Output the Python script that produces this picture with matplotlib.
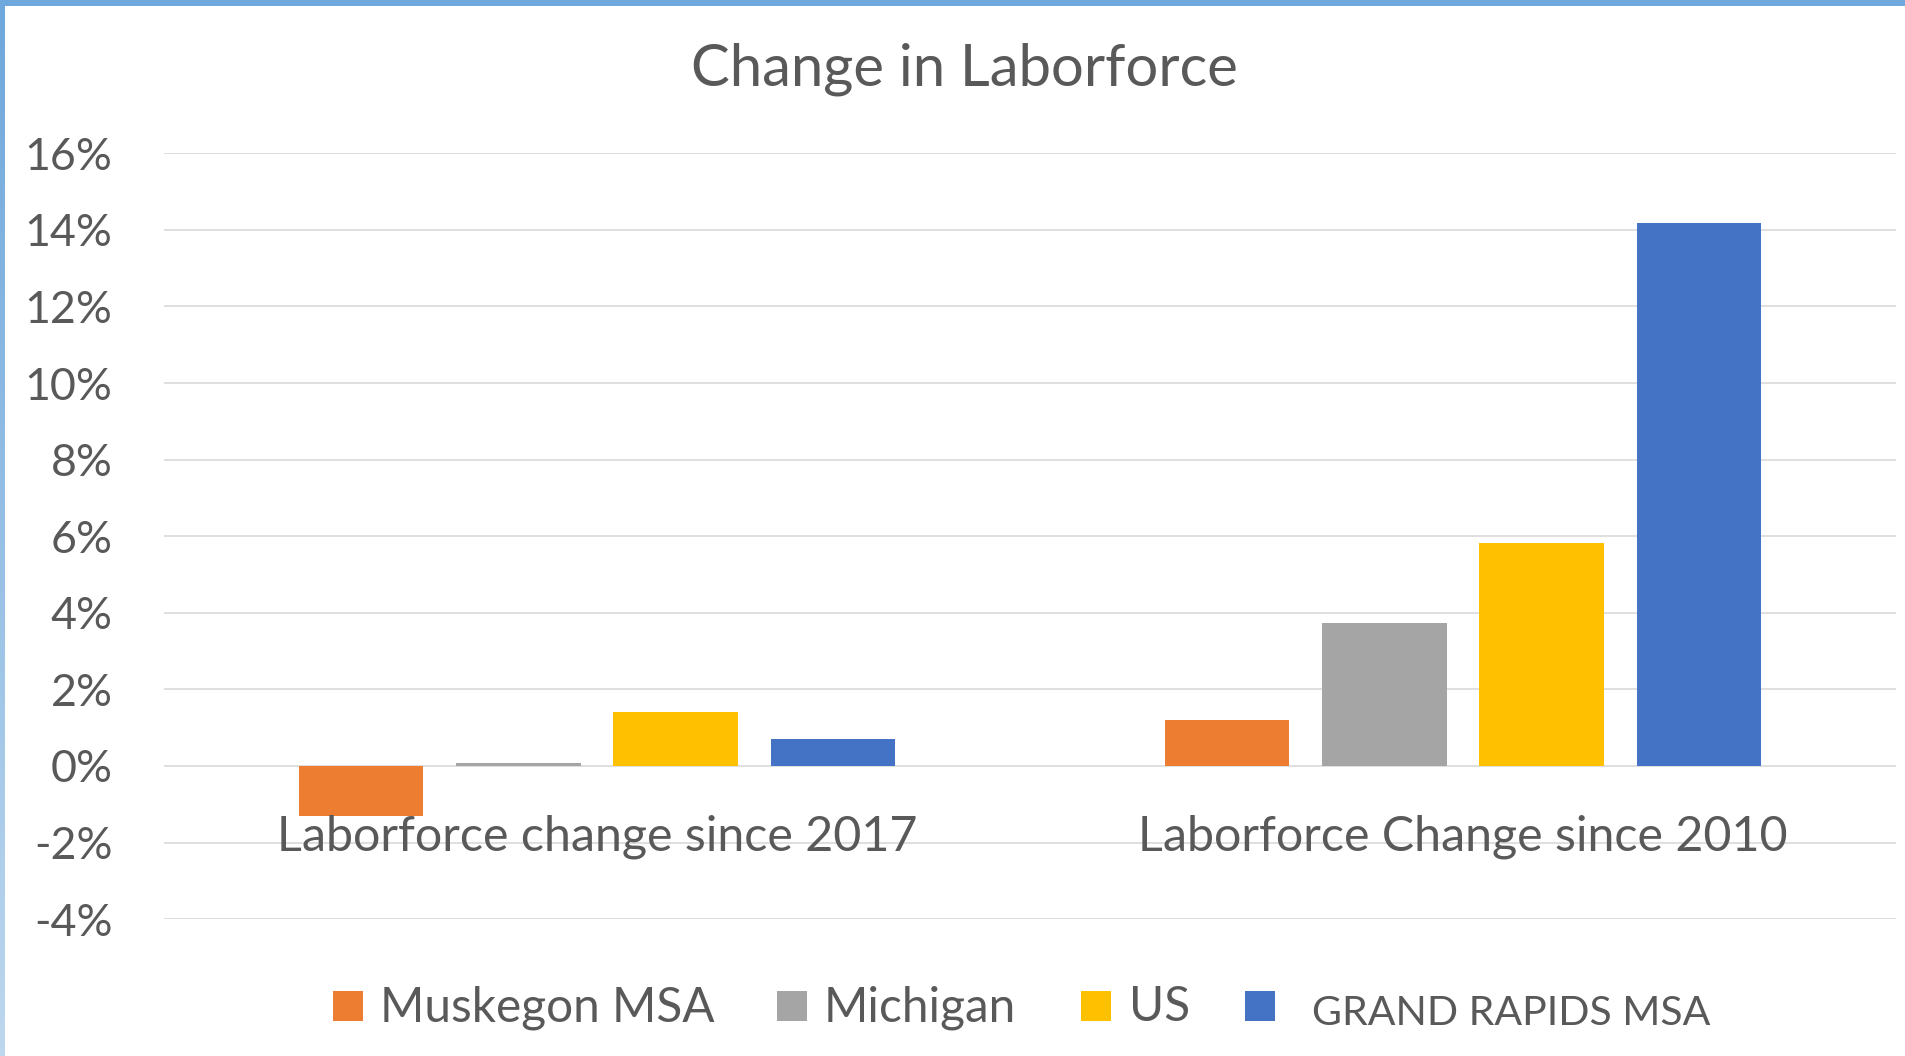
import matplotlib
matplotlib.use("Agg")
import matplotlib.pyplot as plt
from matplotlib.patches import Rectangle
from matplotlib.ticker import PercentFormatter
from matplotlib.colors import LinearSegmentedColormap
import numpy as np

plt.rcParams['font.family'] = ['Lato', 'DejaVu Sans']
plt.rcParams['axes.unicode_minus'] = False

# data (fractions)
categories = ["Laborforce change since 2017", "Laborforce Change since 2010"]
series = ["Muskegon MSA", "Michigan", "US", "GRAND RAPIDS MSA"]
muskegon = [-0.0131, 0.0119]
michigan = [0.0007, 0.0373]
us = [0.0141, 0.0582]
grand_rapids = [0.0070, 0.1418]
colors = ["#ED7D31", "#A5A5A5", "#FFC000", "#4472C4"]
yticks = [-0.04, -0.02, 0, 0.02, 0.04, 0.06, 0.08, 0.10, 0.12, 0.14, 0.16]

W, H = 1906, 1056
TXT = "#595959"

fig = plt.figure(figsize=(W / 100, H / 100), dpi=100)
r = fig.canvas.get_renderer()


def width_of(s, size):
    t = fig.text(0, 0, s, fontsize=size)
    w = t.get_window_extent(r).width
    t.remove()
    return w


def size_for(s, px):
    return 30 * px / width_of(s, 30)


ax = fig.add_axes([164 / W, (H - 919.2) / H, (1896 - 164) / W, (919.2 - 153.2) / H])
ax.set_xlim(-0.5, 1.5)
ax.set_ylim(-0.04, 0.16)

x = np.arange(len(categories))
step, bw = 0.1813, 0.1432
for i, vals in enumerate([muskegon, michigan, us, grand_rapids]):
    ax.bar(x + (i - 1.5) * step, vals, width=bw, color=colors[i], zorder=3,
           label=series[i])

ax.set_yticks(yticks)
ax.yaxis.set_major_formatter(PercentFormatter(1.0, decimals=0))
ax.grid(axis='y', color="#D9D9D9", linewidth=1.2, zorder=0)
ax.set_xticks([])
for s in ax.spines.values():
    s.set_visible(False)
tick_size = size_for("16%", 88)
ax.tick_params(axis='y', length=0, pad=37, labelsize=tick_size, labelcolor=TXT)

# category labels just under zero
lab_size = size_for(categories[0], 641)
for xi, c in zip(x, categories):
    ax.text(xi, -0.0221, c, ha='center', va='baseline',
            fontsize=lab_size, color=TXT)

fig.text(964 / W, 1 - 85 / H, "Change in Laborforce", ha='center',
         va='baseline', color=TXT, fontsize=size_for("Change in Laborforce", 546))

# legend drawn by hand to keep Excel's odd spacing
sq_x = [333, 777, 1081, 1245]
txt_x = [380, 824, 1129, 1312]
base_y = [1021, 1021, 1021, 1025]
leg_size = size_for("Muskegon MSA", 334)
gr_size = size_for("GRAND RAPIDS MSA", 396)
for i, name in enumerate(series):
    fig.add_artist(Rectangle((sq_x[i] / W, 1 - 1021 / H), 30 / W, 30 / H,
                             transform=fig.transFigure, color=colors[i], lw=0))
    fig.text(txt_x[i] / W, 1 - base_y[i] / H, name, ha='left', va='baseline',
             color=TXT, fontsize=gr_size if i == 3 else leg_size)

# frame: blue band on top, fading band on the left
fig.add_artist(Rectangle((0, 1 - 6 / H), 1, 6 / H, transform=fig.transFigure,
                         color="#6FA8DC", lw=0))
bax = fig.add_axes([0, 0, 5 / W, 1 - 6 / H])
cmap = LinearSegmentedColormap.from_list("edge", ["#BDD7EE", "#6FA8DC"])
bax.imshow(np.linspace(0, 1, 200).reshape(-1, 1), cmap=cmap, aspect='auto',
           origin='lower')
bax.axis('off')

fig.savefig("out.png", dpi=100)
